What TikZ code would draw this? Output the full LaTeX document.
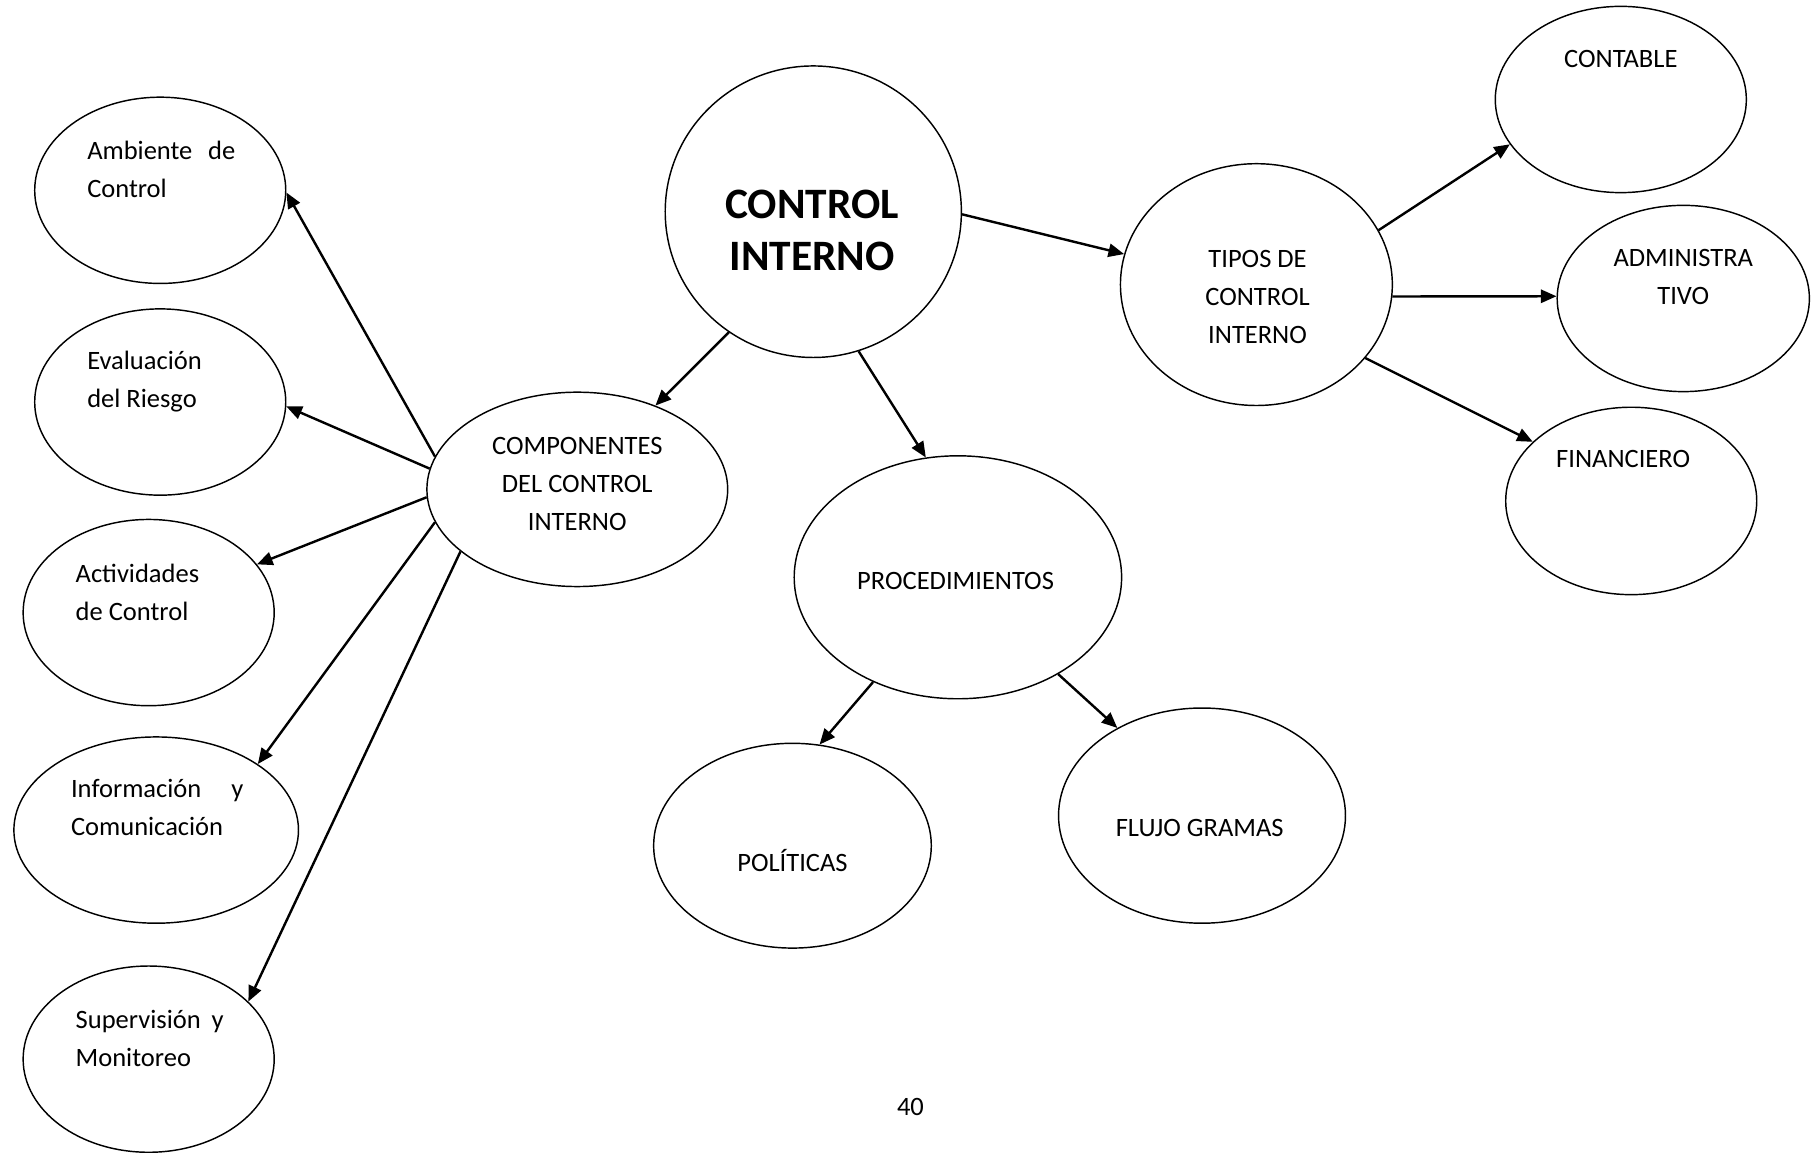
\documentclass[tikz,border=0pt]{standalone}
\usepackage{fontspec}
\setmainfont{Carlito}
\usetikzlibrary{shapes.geometric}
\usetikzlibrary{arrows.meta}
\tikzset{oval/.style 2 args = {ellipse, draw, line width=0.6pt, inner sep=0pt,
                               minimum width=#1*0.48pt, minimum height=#2*0.48pt}}
\tikzset{txt/.style = {inner sep=0pt, align=center,
                       font=\fontsize{11}{15.8}\selectfont}}
\tikzset{lefttxt/.style = {txt, anchor=west, align=left}}
\tikzset{arr/.style = {line width=1pt, -{Triangle[length=6.5pt, width=5.5pt]}}}
\newcommand{\spread}[2]{\hbox to #1{#2}}

\begin{document}
\begin{tikzpicture}[x=0.48pt, y=-0.48pt]
    \useasboundingbox (0, 0) rectangle (1568, 996);

    \node [oval={256}{252}] (ci) at (703, 183) {};
    \node [oval={260}{168}] (comp) at (499, 423) {};
    \node [oval={283}{210}] (proc) at (828, 499) {};
    \node [oval={240}{177}] (pol) at (685, 731) {};
    \node [oval={248}{186}] (flujo) at (1039, 705) {};
    \node [oval={235}{209}] (tipos) at (1086, 246) {};
    \node [oval={217}{161}] (conta) at (1401, 86) {};
    \node [oval={218}{161}] (admin) at (1455, 258) {};
    \node [oval={217}{162}] (finan) at (1410, 433) {};

    \node [oval={217}{161}] (amb) at (138.5, 164.5) {};
    \node [oval={217}{161}] (eval) at (138.5, 347.5) {};
    \node [oval={217}{161}] (activ) at (128.5, 529.5) {};
    \node [oval={246}{161}] (info) at (135, 717.5) {};
    \node [oval={217}{161}] (super) at (128.5, 915.5) {};

    \node [txt, font=\fontsize{18}{21.6}\selectfont\bfseries] (ci-t) at (702, 199) {CONTROL\\INTERNO};
    \node [txt] (comp-t) at (499, 418.5) {COMPONENTES\\DEL CONTROL\\INTERNO};
    \node [txt] (tipos-t) at (1087, 256.5) {TIPOS DE\\CONTROL\\INTERNO};
    \node [txt] (conta-t) at (1401, 51) {CONTABLE};
    \node [txt] (admin-t) at (1455, 239.5) {ADMINISTRA\\TIVO};
    \node [txt] (finan-t) at (1403, 397) {FINANCIERO};
    \node [txt] (proc-t) at (826, 502) {PROCEDIMIENTOS};
    \node [txt] (pol-t) at (685, 744) {POLÍTICAS};
    \node [txt] (flujo-t) at (1037, 716) {FLUJO GRAMAS};

    \node [lefttxt] (amb-t) at (75, 146.5) {\spread{61.4pt}{Ambiente\hfill de}\\Control};
    \node [lefttxt] (eval-t) at (75, 329.5) {Evaluación\\del Riesgo};
    \node [lefttxt] (activ-t) at (65, 512) {Actividades\\de Control};
    \node [lefttxt] (info-t) at (61, 698) {\spread{71.5pt}{Información\hfill y}\\Comunicación};
    \node [lefttxt] (super-t) at (65, 897.5) {\spread{61.4pt}{Supervisión\hfill y}\\Monitoreo};

    \node [txt] (page) at (787, 957) {40};

    \draw [arr] (ci.-125) -- (comp.47);
    \draw [arr] (ci.-72) -- (proc.105);
    \draw [arr] (ci.-1) -- (tipos.167);

    \draw [arr] (tipos.24) -- (conta.-158);
    \draw [arr] (tipos.-5) -- (admin.179);
    \draw [arr] (tipos.-34) -- (finan.149);

    \draw [arr] (proc.-129) -- (pol.75);
    \draw [arr] (proc.-44) -- (flujo.134);

    \draw [arr] (comp.167) -- (amb.-1);
    \draw [arr] (comp.172) -- (eval.-2);
    \draw [arr] (comp.-177) -- (activ.24);
    \draw [arr] (comp.-167) -- (info.33);
    \draw [arr] (comp.-152) -- (super.30);
\end{tikzpicture}
\end{document}
